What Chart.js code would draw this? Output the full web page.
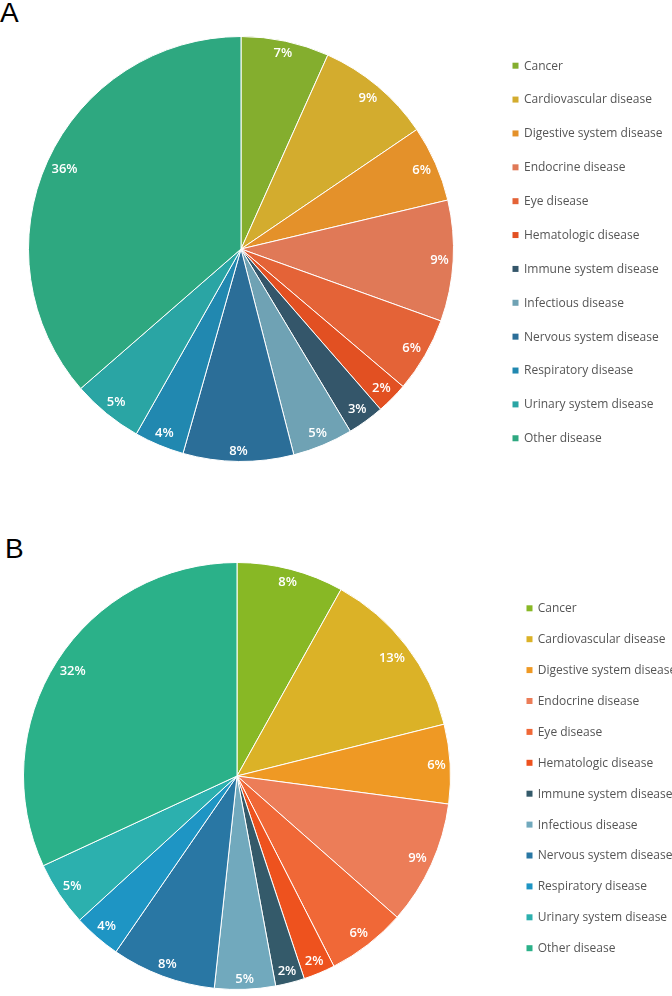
<!DOCTYPE html>
<html><head><meta charset="utf-8">
<script src="https://cdn.jsdelivr.net/npm/chart.js@4/dist/chart.umd.min.js"></script>
<style>
html,body{margin:0;padding:0;background:#fff;width:672px;height:996px;overflow:hidden}
.panel{position:absolute;left:0;width:672px}
.tag{position:absolute;font-family:"Liberation Sans",Arial,sans-serif;font-size:28px;color:#000;line-height:28px}
</style></head><body>
<div class="tag" style="left:0;top:-1px">A</div>
<div class="panel" style="top:0;height:500px"><canvas id="cA" width="672" height="500"></canvas></div>
<div class="tag" style="left:5px;top:535px">B</div>
<div class="panel" style="top:520px;height:476px"><canvas id="cB" width="672" height="476"></canvas></div>
<script>
const categories = ["Cancer","Cardiovascular disease","Digestive system disease","Endocrine disease","Eye disease","Hematologic disease","Immune system disease","Infectious disease","Nervous system disease","Respiratory disease","Urinary system disease","Other disease"];
const valuesA = [6.7, 8.8, 5.8, 9.2, 5.7, 2.4, 2.8, 4.6, 8.4, 3.8, 5.4, 36.4];
const valuesB = [8.1, 13.0, 6.0, 9.4, 6.0, 2.4, 2.2, 4.6, 7.9, 3.6, 4.9, 31.9];
const colorsA = ["#84AE2E","#D3AC2E","#E4912A","#E07957","#E46337","#E25022","#34566A","#6FA2B4","#2B6E98","#2188B0","#2AA5A4","#2EA880"];
const colorsB = ["#88B825","#DBB227","#EF9924","#EC7D58","#F06837","#EE521E","#345A6A","#71A9BD","#2977A4","#1E95C4","#2CB0AE","#2BB189"];

const sliceLabels = {
  id: 'sliceLabels',
  afterDatasetsDraw(chart, args, o) {
    const ctx = chart.ctx, meta = chart.getDatasetMeta(0), ds = chart.data.datasets[0];
    const total = ds.data.reduce((a, b) => a + b, 0);
    ctx.save();
    ctx.font = o.font; ctx.fillStyle = '#fff'; ctx.textAlign = 'center'; ctx.textBaseline = 'middle';
    meta.data.forEach((arc, i) => {
      const p = arc.getProps(['x','y','startAngle','endAngle','outerRadius'], true);
      const mid = (p.startAngle + p.endAngle) / 2;
      const ux = Math.cos(mid), uy = Math.sin(mid);
      const txt = Math.round(ds.data[i] / total * 100) + '%';
      const w = ctx.measureText(txt).width;
      const ext = Math.abs(ux) * w / 2 + Math.abs(uy) * o.halfH;
      const d = p.outerRadius - o.inset - ext;
      ctx.fillText(txt, p.x + ux * d, p.y + uy * d + 0.5);
    });
    ctx.restore();
  }
};
const sideLegend = {
  id: 'sideLegend',
  afterDraw(chart, args, o) {
    const ctx = chart.ctx, ds = chart.data.datasets[0];
    ctx.save();
    ctx.font = o.font; ctx.textBaseline = 'middle'; ctx.textAlign = 'left';
    chart.data.labels.forEach((lab, i) => {
      const cy = o.y0 + i * o.gap;
      ctx.fillStyle = ds.backgroundColor[i];
      ctx.fillRect(o.boxX, cy - o.box / 2, o.box, o.box);
      ctx.fillStyle = o.color;
      ctx.fillText(lab, o.textX, cy + 0.5);
    });
    ctx.restore();
  }
};

function makePie(id, values, colors, pad, legendOpts) {
  return new Chart(document.getElementById(id), {
    type: 'pie',
    data: { labels: categories, datasets: [{ data: values, backgroundColor: colors, borderColor: '#ffffff', borderWidth: 1 }] },
    options: {
      responsive: false, animation: false,
      layout: { padding: pad },
      plugins: {
        legend: { display: false }, tooltip: { enabled: false },
        sliceLabels: { font: '600 13px "Open Sans", sans-serif', halfH: 6.5, inset: 4 },
        sideLegend: legendOpts
      }
    },
    plugins: [sliceLabels, sideLegend]
  });
}
makePie('cA', valuesA, colorsA, { top: 36, bottom: 38, left: 0, right: 190 },
  { font: '12px "Open Sans", sans-serif', color: '#555555', boxX: 512.5, box: 6, textX: 524, y0: 65.7, gap: 33.87 });
makePie('cB', valuesB, colorsB, { top: 42, bottom: 6, left: 0, right: 198 },
  { font: '12px "Open Sans", sans-serif', color: '#555555', boxX: 526.5, box: 6, textX: 537.7, y0: 88.3, gap: 30.9 });
</script>
</body></html>
